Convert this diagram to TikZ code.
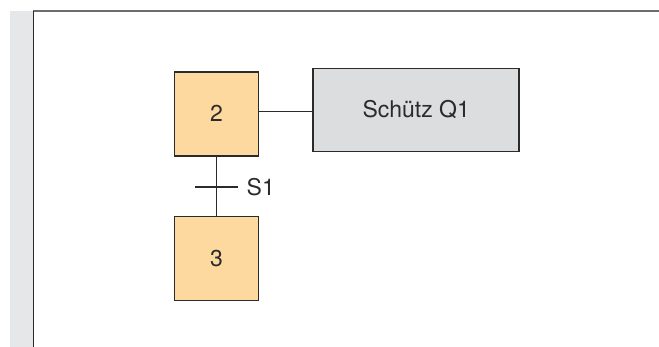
\documentclass[tikz,border=0pt]{standalone}
\usepackage{fontspec}
\setmainfont{TeX Gyre Heros}
\definecolor{stepfill}{HTML}{FDD9A0}
\definecolor{actfill}{HTML}{DCDDDE}
\definecolor{stripgray}{HTML}{E6E7E8}
\definecolor{linedark}{HTML}{2B2B2B}
\begin{document}
\begin{tikzpicture}[x=1pt,y=-1pt,
  stepbox/.style={draw=linedark,line width=1.6pt,fill=stepfill,minimum width=84pt,minimum height=84pt,inner sep=0pt,font=\fontsize{23}{27}\selectfont,text=linedark},
  actbox/.style={draw=linedark,line width=1.6pt,fill=actfill,minimum width=206pt,minimum height=83pt,inner sep=0pt,font=\fontsize{23}{27}\selectfont,text=linedark},
  conn/.style={draw=linedark,line width=1.4pt}]
\useasboundingbox (0,0) rectangle (659,347);
\fill[stripgray] (10,11) rectangle (33,347);
\draw[line width=1.5pt,draw=gray!85!black] (33,11) -- (659,11);
\draw[line width=1.4pt,draw=linedark] (33.5,11) -- (33.5,347);
\node[stepbox] (s2) at (216.5,113.75) {2};
\node[stepbox] (s3) at (216.5,258.5) {3};
\node[actbox] (q1) at (416.2,110) {Schütz Q1};
\draw[conn] (s2.south) -- (s3.north);
\coordinate (tl) at (195,187);
\coordinate (tr) at (237.5,187);
\draw[conn] (tl) -- (tr);
\node[anchor=west,inner sep=0pt,font=\fontsize{23}{27}\selectfont,text=linedark] (s1) at (246.5,187) {S1};
\draw[conn] (s2.east |- 0,111.7) -- (q1.west |- 0,111.7);
\end{tikzpicture}
\end{document}
